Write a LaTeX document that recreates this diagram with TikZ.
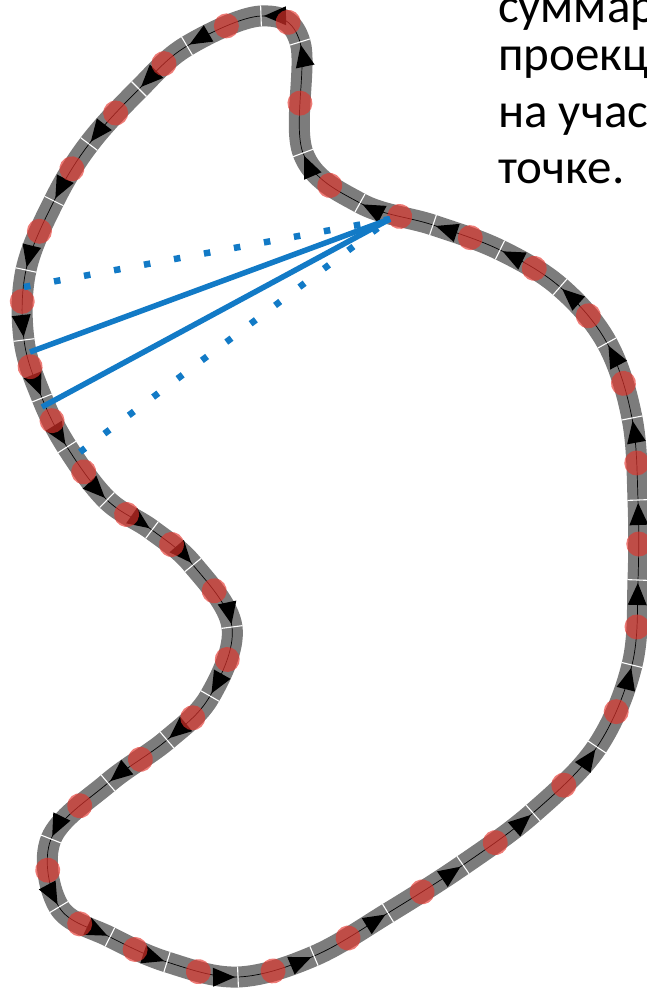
\documentclass[tikz,border=0pt]{standalone}
\usepackage{fontspec}
\setmainfont{Carlito}
\usetikzlibrary{calc,decorations.markings}
\definecolor{bandgray}{RGB}{124,124,124}
\definecolor{dotred}{RGB}{228,52,44}
\definecolor{rayblue}{RGB}{18,122,198}
\newcommand{\crto}[4]{.. controls ($(#2)+0.1667*(#3)-0.1667*(#1)$) and ($(#3)-0.1667*(#4)+0.1667*(#2)$) .. (#3)}

\begin{document}
\begin{tikzpicture}[x=1pt, y=-1pt,
    band/.style={draw=bandgray, line width=21pt},
    spine/.style={draw=black, line width=0.7pt},
    arrowmark/.style={decorate, decoration={markings, mark=at position -3pt with {\fill[black] (0pt,0pt) -- (-22pt,9.5pt) -- (-22pt,-9.5pt) -- cycle;}}},
    dotmark/.style={decorate, decoration={markings, mark=at position 0.45 with {\fill[dotred, opacity=0.65] (0pt,0pt) circle (12.5pt);}}},
    tickmark/.style={decorate, decoration={markings, mark=at position 0 with {\draw[white, line width=1.1pt] (0pt,-10.5pt) -- (0pt,10.5pt);}}},
    ray/.style={draw=rayblue, line width=5.5pt},
    raydot/.style={draw=rayblue, line width=6.5pt, dash pattern=on 6.5pt off 24pt},
    txt/.style={anchor=base west, inner sep=0pt, font=\fontsize{49}{58}\selectfont}]
    \useasboundingbox (0,0) rectangle (646,994);
    \foreach \x/\y [count=\i] in {300/42, 261/16, 187/46, 139/89, 89/144, 54/201, 26/270, 24/340, 42/398, 67/447, 107/500, 152/530, 193/565, 232/627, 210/696, 167/740, 108/783, 51/839, 59/907, 110/937, 167/962, 238/977, 314/956, 388/913, 463/865, 533/813, 597/747, 632/665, 638/580, 638/500, 632/418, 607/343, 560/287, 500/250, 433/225, 360/203, 303/153}
        \coordinate (t\i) at (\x,\y);

    \draw[band] (t1) \foreach \b [evaluate=\b as \a using {int(mod(\b+35,37)+1)}, evaluate=\b as \c using {int(mod(\b,37)+1)}, evaluate=\b as \d using {int(mod(\b+1,37)+1)}] in {1,...,37} {\crto{t\a}{t\b}{t\c}{t\d}} -- cycle;
    \draw[spine] (t1) \foreach \b [evaluate=\b as \a using {int(mod(\b+35,37)+1)}, evaluate=\b as \c using {int(mod(\b,37)+1)}, evaluate=\b as \d using {int(mod(\b+1,37)+1)}] in {1,...,37} {\crto{t\a}{t\b}{t\c}{t\d}} -- cycle;

    \foreach \b [evaluate=\b as \a using {int(mod(\b+35,37)+1)}, evaluate=\b as \c using {int(mod(\b,37)+1)}, evaluate=\b as \d using {int(mod(\b+1,37)+1)}] in {1,...,37} {
        \path[arrowmark] (t\b) \crto{t\a}{t\b}{t\c}{t\d};
        \path[dotmark] (t\b) \crto{t\a}{t\b}{t\c}{t\d};
        \path[tickmark] (t\b) \crto{t\a}{t\b}{t\c}{t\d};
    }

    \coordinate (src) at (390,219);
    \coordinate (s1) at (30,352); \coordinate (s2) at (42,407);
    \coordinate (e1) at (24,287); \coordinate (e2) at (80,452);
    \draw[raydot] (e1) -- (src); \draw[raydot] (e2) -- (src);
    \draw[ray] (src) -- (s1); \draw[ray] (src) -- (s2);

    \node[txt] (l1) at (498,22) {суммар};
    \node[txt] (l2) at (498,70) {проекц};
    \node[txt] (l3) at (498,127) {на учас};
    \node[txt] (l4) at (498,183) {точке.};
\end{tikzpicture}
\end{document}
